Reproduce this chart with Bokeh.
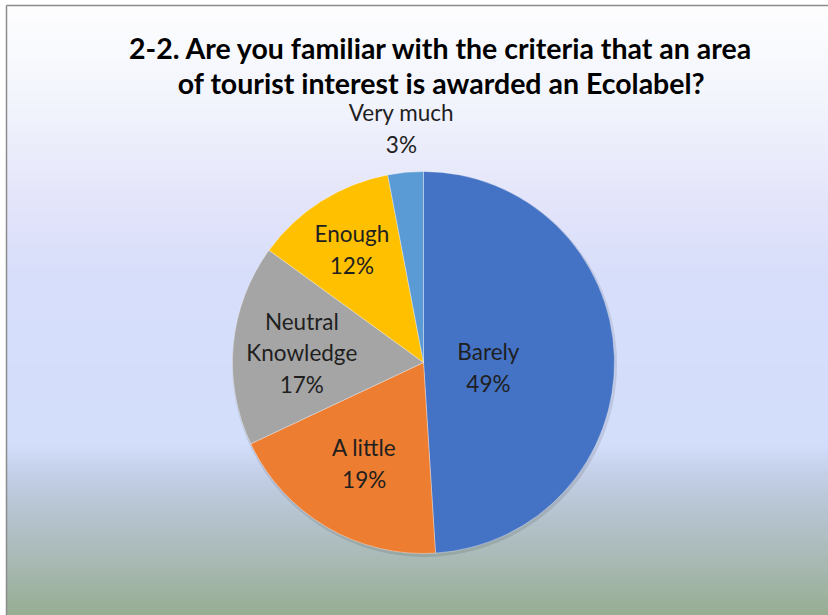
import numpy as np
from bokeh.plotting import figure
from bokeh.models import Range1d, Label, ColumnDataSource
from bokeh.core.properties import value
from bokeh.embed import file_html
from bokeh.resources import INLINE

# ---- data ----
categories = ["Barely", "A little", "Neutral\nKnowledge", "Enough", "Very much"]
percents = [49, 19, 17, 12, 3]
colors = ["#4472C4", "#ED7D31", "#A5A5A5", "#FFC000", "#5B9BD5"]
title_lines = ["2-2. Are you familiar with the criteria that an area",
               "of tourist interest is awarded an Ecolabel?"]

# ---- layout / style ----
W, H = 828, 615
def up(page_y):           # page y (down) -> data y (up)
    return H - page_y

CX, CY, R = 423, up(362), 191
label_rf = [0.34, 0.61, 0.64, 0.70, 1.23]   # label distance as fraction of radius
label_dy = [7, 1, 2, 0, 0]                  # extra screen offset (px, down)
FONT = "Lato"
FX, FY = 6, 5   # chart frame left / top (page px)

p = figure(width=W, height=H, x_range=Range1d(0, W), y_range=Range1d(0, H),
           output_backend="svg", toolbar_location=None, min_border=0)
p.axis.visible = False
p.grid.visible = False
p.outline_line_color = None
p.background_fill_color = "white"
p.border_fill_color = "white"

# background gradient (style only)
stop_y = [0, 100, 200, 280, 445, 470, 510, 560, 615]
stop_c = ["#FFFFFF", "#F3F5FD", "#E4E5FA", "#D7DEFB", "#D3DEFC", "#C6D1EA", "#B7C5D2", "#A9BAB5", "#97AE93"]
rgb = np.array([[int(c[i:i + 2], 16) for i in (1, 3, 5)] for c in stop_c], dtype=float)
GH = H - FY
rows = np.arange(GH)
page_y = H - (rows + 0.5)
img = np.empty((GH, 2), dtype=np.uint32)
view = img.view(dtype=np.uint8).reshape((GH, 2, 4))
for ch in range(3):
    view[:, :, ch] = np.interp(page_y, stop_y, rgb[:, ch]).astype(np.uint8)[:, None]
view[:, :, 3] = 255
p.image_rgba(image=[img], x=FX, y=0, dw=W - FX, dh=GH)

# frame lines (top & left)
p.segment(x0=[FX, FX], y0=[up(FY), up(FY)], x1=[W, FX], y1=[up(FY), 0],
          line_color="#8c8c8c", line_width=1.5)

# pie
frac = np.array(percents, dtype=float) / sum(percents)
cum = np.concatenate([[0], np.cumsum(frac)])
end = np.pi / 2 - 2 * np.pi * cum[:-1]
start = np.pi / 2 - 2 * np.pi * cum[1:]
mid = (start + end) / 2
src = ColumnDataSource(dict(start=start, end=end, color=colors,
                            lx=CX + R * np.array(label_rf) * np.cos(mid),
                            ly=CY + R * np.array(label_rf) * np.sin(mid),
                            dy=label_dy,
                            txt=[f"{c}\n{v}%" for c, v in zip(categories, percents)]))

# soft shadow
p.circle(x=[CX + 1], y=[CY - 2], radius=R + 1.5, fill_color="black", fill_alpha=0.10, line_color=None)
p.wedge(x=CX, y=CY, radius=R, start_angle="start", end_angle="end", fill_color="color",
        line_color="white", line_alpha=0.35, line_width=1, source=src)

p.text(x="lx", y="ly", text="txt", y_offset="dy", source=src, text_align="center", text_baseline="middle",
       text_font=value(FONT), text_font_size="22.5px", text_color="#1f1f1f", text_line_height=1.18)

# title
for i, t in enumerate(title_lines):
    p.add_layout(Label(x=441, y=up(47 + 35 * i), text=t, text_align="center", text_baseline="middle",
                       text_font=FONT, text_font_size="28.5px", text_font_style="bold", text_color="#000000"))

open("out.html", "w").write(file_html(p, INLINE))
